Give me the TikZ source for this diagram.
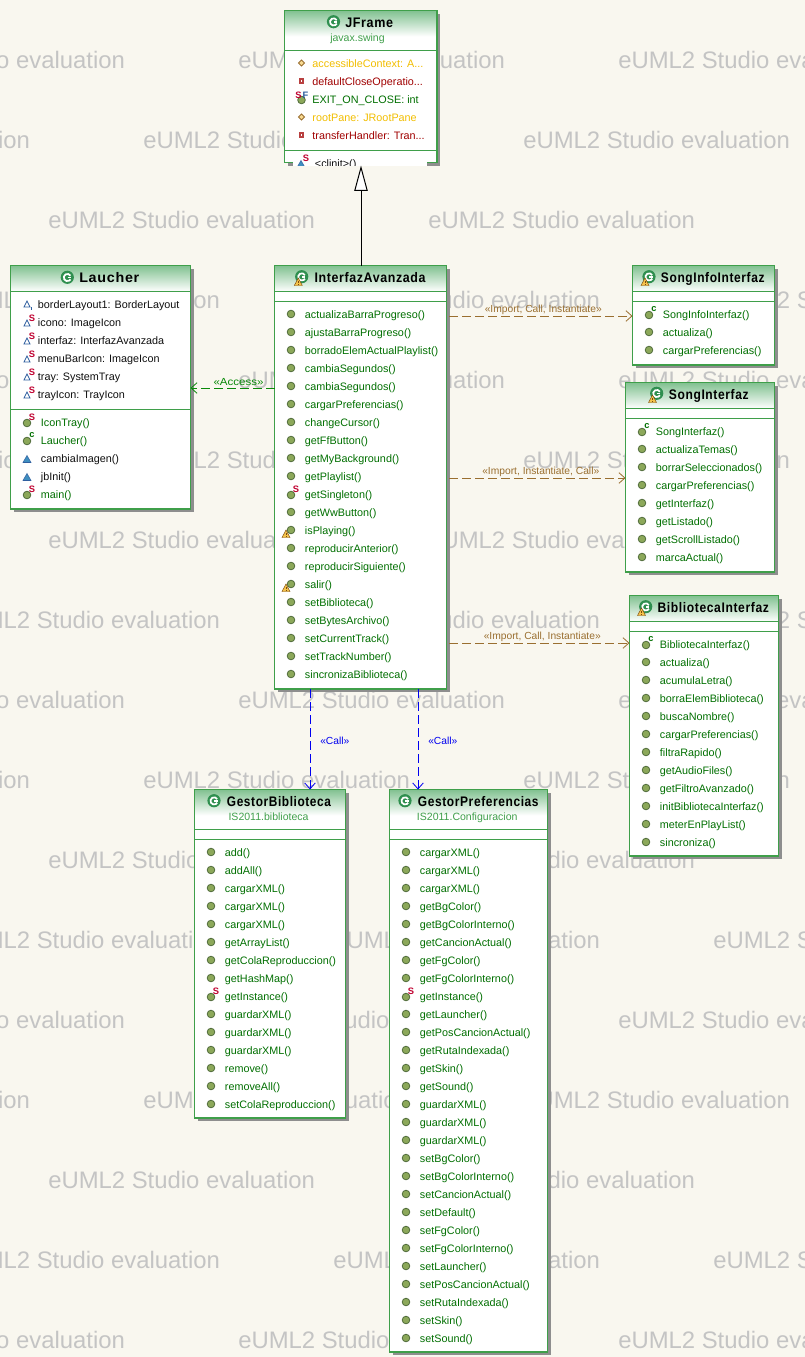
\documentclass[tikz,border=0pt]{standalone}
\usepackage{fontspec}
\setmainfont{Liberation Sans}
\newfontfamily\tfont[LetterSpace=5]{Liberation Sans}
\usetikzlibrary{calc,arrows.meta}
\definecolor{bgc}{HTML}{F9F7EF}
\definecolor{wmc}{HTML}{C4C4C4}
\definecolor{boxc}{HTML}{3F9F4A}
\definecolor{shc}{HTML}{8E8E8E}
\definecolor{topc}{HTML}{83C292}
\definecolor{subc}{HTML}{3F9F4A}
\definecolor{tc-p}{HTML}{006F00}
\definecolor{tc-s}{HTML}{006F00}
\definecolor{tc-c}{HTML}{006F00}
\definecolor{tc-w}{HTML}{006F00}
\definecolor{tc-f}{HTML}{006F00}
\definecolor{tc-t}{HTML}{101010}
\definecolor{tc-x}{HTML}{101010}
\definecolor{tc-a}{HTML}{101010}
\definecolor{tc-b}{HTML}{101010}
\definecolor{tc-o}{HTML}{F2BE00}
\definecolor{tc-r}{HTML}{A00000}
\definecolor{impc}{HTML}{9A6F30}
\definecolor{accc}{HTML}{0A8A0A}
\definecolor{callc}{HTML}{0000F0}
\definecolor{icg}{HTML}{8CA85A}
\definecolor{icd}{HTML}{4F6B3A}
\definecolor{ictri}{HTML}{3F8FC0}
\definecolor{ictc}{HTML}{2F5F9F}
\definecolor{stc}{HTML}{C00030}
\definecolor{warnc}{HTML}{F5C34A}
\definecolor{warnd}{HTML}{7A4A10}
\definecolor{clsc}{HTML}{2F8F4F}
\newcommand\ddd{...}
\def\rowoff{13.7}
\tikzset{
  wm/.style={font=\fontsize{17.9pt}{20pt}\selectfont,text=wmc,anchor=base west,inner sep=0},
  classbox/.style={draw=boxc,fill=white,line width=.9pt,inner sep=0,outer sep=0,anchor=north west},
  titlet/.style={font=\tfont\bfseries\fontsize{10.4pt}{11pt}\selectfont,text=black,anchor=base west,inner sep=0},
  subt/.style={font=\fontsize{7.9pt}{9pt}\selectfont,text=subc,anchor=base west,inner sep=0},
  row/.style={font=\fontsize{8.1pt}{9pt}\selectfont,anchor=base west,inner sep=0},
  clabel/.style={font=\fontsize{7.7pt}{8pt}\selectfont,inner sep=0,anchor=base west},
  dep/.style={dash pattern=on 6.75pt off 3pt,line width=.75pt,-{Straight Barb[length=4.5pt,width=8pt,line width=.6pt]}},
  sline/.style={draw=boxc,line width=.75pt}
}
\newcommand\icpub[2]{\fill[icg,draw=icd,line width=.6pt] (#1,#2) circle (3.8);}
\newcommand\icsup[4]{\node[inner sep=0,font=\bfseries\fontsize{7pt}{7pt}\selectfont,text=#4] at (#1,#2) {#3};}
\newcommand\ictrif[2]{\fill[ictri,draw=ictc,line width=.4pt] (#1-4,#2+3.5)--(#1+4,#2+3.5)--(#1,#2-3.5)--cycle;}
\newcommand\ictrih[2]{\draw[ictc,fill=white,line width=.6pt] (#1-3,#2+3)--(#1+3,#2+3)--(#1,#2-3)--cycle;}
\newcommand\icwarn[2]{\fill[warnc,draw=warnd,line width=.35pt] (#1-4,#2+3.5)--(#1+4,#2+3.5)--(#1,#2-4)--cycle;
  \fill[warnd] (#1-.5,#2-1.3) rectangle (#1+.5,#2+1); \fill[warnd] (#1-.5,#2+1.7) rectangle (#1+.5,#2+2.8);}
\newcommand\icp[2]{\icpub{#1}{#2}}
\newcommand\ics[2]{\icpub{#1}{#2+1}\icsup{#1+5}{#2-5}{S}{stc}}
\newcommand\icc[2]{\icpub{#1}{#2+1}\icsup{#1+5}{#2-5}{c}{tc-p}}
\newcommand\ict[2]{\ictrif{#1}{#2+1}}
\newcommand\icw[2]{\icpub{#1}{#2}\icwarn{#1-5}{#2+4}}
\newcommand\icx[2]{\ictrif{#1}{#2+1}\icsup{#1+5}{#2-5}{S}{stc}}
\newcommand\ica[2]{\ictrih{#1}{#2+1}\icsup{#1+5}{#2-4}{S}{stc}}
\newcommand\icb[2]{\ictrih{#1}{#2}\draw[ictc,line width=.5pt] (#1+4.5,#2+3)--(#1+4.5,#2+6);}
\newcommand\icf[2]{\icpub{#1}{#2+1}\icsup{#1-3}{#2-4}{S}{stc}\icsup{#1+4}{#2-4}{F}{ictc}}
\newcommand\ico[2]{\draw[fill=warnc!60,draw=impc,line width=.55pt] (#1,#2-3)--(#1+3,#2)--(#1,#2+3)--(#1-3,#2)--cycle;}
\newcommand\icr[2]{\fill[tc-r!75] (#1-2.6,#2-2.6) rectangle (#1+2.6,#2+2.6); \fill[white] (#1-.9,#2-.9) rectangle (#1+.9,#2+.9);}
\newcommand\clsicon[2]{\fill[clsc] (#1,#2) circle (6.6);
  \draw[white,line width=1.3pt] (#1+3.2,#2-1.6) arc (-30:-330:3.6) ;
  \draw[white,line width=1pt] (#1+.4,#2+.2)--(#1+3.5,#2+.2);}
\newcommand\umlbox[5]{
  \fill[shc] (#2+3,#3+3) rectangle (#4+3,#5+3);
  \node[classbox,minimum width={(#4-#2)*.75pt},minimum height={(#5-#3)*.75pt}] (#1) at (#2,#3) {};
}
\newcommand\umlhead[5]{
  \shade[top color=topc,bottom color=white] (#2+.5,#3+.5) rectangle (#4-.5,#3+26);
  \draw[boxc,line width=.9pt] (#2,#3)--(#4,#3)--(#4,#5)--(#2,#5)--cycle;
}
\newcommand\rows[4]{
  \foreach \t/\k [count=\i] in {#4}{
    \csname ic\k\endcsname{#2}{#3+18*\i-18}
    \node[row,text=tc-\k] (#1-r\i) at (#2+\rowoff,#3+18*\i-18+4) {\t};
  }
}
% box, iconx, icony, textx, baseline, width(pt), text
\newcommand\classtitle[7]{
  \clsicon{#2}{#3}
  \node[titlet] (#1-t) at (#4,#5) {\resizebox{#6}{\height}{#7}};
}
\begin{document}
\begin{tikzpicture}[x=.75pt,y=-.75pt]
\useasboundingbox (0,0) rectangle (805,1357);
\fill[bgc] (0,0) rectangle (805,1357);
\foreach \yy/\xx [count=\n] in {68/-142,68/238,68/618,
 148/-237,148/143,148/523,
 228/48,228/428,
 308/-47,308/333,308/713,
 388/-142,388/238,388/618,
 468/-237,468/143,468/523,
 548/48,548/428,
 628/-47,628/333,628/713,
 708/-142,708/238,708/618,
 788/-237,788/143,788/523,
 868/48,868/428,
 948/-47,948/333,948/713,
 1028/-142,1028/238,1028/618,
 1108/-237,1108/143,1108/523,
 1188/48,1188/428,
 1268/-47,1268/333,1268/713,
 1348/-142,1348/238,1348/618}{
  \node[wm] (wm\n) at (\xx,\yy) {eUML2 Studio evaluation};
}
% JFrame
\umlbox{jframe}{284.5}{10.5}{437}{162.5}
\umlhead{jframe}{284.5}{10.5}{437}{50.5}
\classtitle{jframe}{333.5}{21.7}{345}{27.5}{35.8pt}{JFrame}
\node[subt] (jframe-s) at (330,41) {javax.swing};
\def\rowoff{10.7}
\rows{jframe-a}{301.5}{63}{accessibleContext: A\ddd/o,defaultCloseOperatio\ddd/r,EXIT\_ON\_CLOSE: int/f,rootPane: JRootPane/o,transferHandler: Tran\ddd/r}
\def\rowoff{13.7}
\draw[sline] (284.5,150.5)--(437,150.5);
\fill[white] (293,151.5) rectangle (427,165.7);
\begin{scope}
\clip (293,151.5) rectangle (427,165.7);
\rows{jframe-m}{301}{163}{<clinit>()/x}
\end{scope}
% Laucher
\umlbox{launcher}{10.5}{265.5}{190.5}{509}
\umlhead{launcher}{10.5}{265.5}{190.5}{291.5}
\classtitle{launcher}{67.3}{277.3}{79}{282.5}{45pt}{Laucher}
\draw[sline] (10.5,409.5)--(190.5,409.5);
\def\rowoff{10.7}
\rows{launcher-a}{27}{304}{borderLayout1: BorderLayout/b,icono: ImageIcon/a,interfaz: InterfazAvanzada/a,menuBarIcon: ImageIcon/a,tray: SystemTray/a,trayIcon: TrayIcon/a}
\def\rowoff{13.7}
\rows{launcher-m}{27}{422}{IconTray()/s,Laucher()/c,cambiaImagen()/t,jbInit()/t,main()/s}
% Interfaz
\umlbox{iface}{274.5}{265.5}{446.5}{689}
\umlhead{iface}{274.5}{265.5}{446.5}{291.5}
\classtitle{iface}{301.7}{276.7}{314.3}{282.5}{83.25pt}{InterfazAvanzada}
\icwarn{298.3}{282}
\draw[sline] (274.5,301.5)--(446.5,301.5);
\rows{iface-m}{291}{314}{actualizaBarraProgreso()/p,ajustaBarraProgreso()/p,borradoElemActualPlaylist()/p,cambiaSegundos()/p,cambiaSegundos()/p,cargarPreferencias()/p,changeCursor()/p,getFfButton()/p,getMyBackground()/p,getPlaylist()/p,getSingleton()/s,getWwButton()/p,isPlaying()/w,reproducirAnterior()/p,reproducirSiguiente()/p,salir()/w,setBiblioteca()/p,setBytesArchivo()/p,setCurrentTrack()/p,setTrackNumber()/p,sincronizaBiblioteca()/p}
% SongInfo
\umlbox{sinfo}{632.5}{265.5}{774.5}{365}
\umlhead{sinfo}{632.5}{265.5}{774.5}{291.5}
\classtitle{sinfo}{649}{276.7}{660.7}{282.5}{77.7pt}{SongInfoInterfaz}
\icwarn{645}{282}
\draw[sline] (632.5,301.5)--(774.5,301.5);
\rows{sinfo-m}{649}{314}{SongInfoInterfaz()/c,actualiza()/p,cargarPreferencias()/p}
% SongInterfaz
\umlbox{song}{625.5}{382.5}{774.5}{572}
\umlhead{song}{625.5}{382.5}{774.5}{408.5}
\classtitle{song}{656.7}{393.3}{668.7}{399.5}{59.7pt}{SongInterfaz}
\icwarn{652.5}{399}
\draw[sline] (625.5,418.5)--(774.5,418.5);
\rows{song-m}{642}{431}{SongInterfaz()/c,actualizaTemas()/p,borrarSeleccionados()/p,cargarPreferencias()/p,getInterfaz()/p,getListado()/p,getScrollListado()/p,marcaActual()/p}
% Biblioteca
\umlbox{biblio}{629.5}{595.5}{778.5}{856}
\umlhead{biblio}{629.5}{595.5}{778.5}{621.5}
\classtitle{biblio}{645.7}{606.7}{657.3}{612.5}{83.5pt}{BibliotecaInterfaz}
\icwarn{641.5}{612}
\draw[sline] (629.5,631.5)--(778.5,631.5);
\rows{biblio-m}{646}{644}{BibliotecaInterfaz()/c,actualiza()/p,acumulaLetra()/p,borraElemBiblioteca()/p,buscaNombre()/p,cargarPreferencias()/p,filtraRapido()/p,getAudioFiles()/p,getFiltroAvanzado()/p,initBibliotecaInterfaz()/p,meterEnPlayList()/p,sincroniza()/p}
% GestorBiblioteca
\umlbox{gbib}{194.5}{789.5}{345.5}{1118}
\umlhead{gbib}{194.5}{789.5}{345.5}{829.5}
\classtitle{gbib}{214}{800.7}{226.7}{806.5}{78pt}{GestorBiblioteca}
\node[subt] (gbib-s) at (228.3,820) {IS2011.biblioteca};
\draw[sline] (194.5,839.5)--(345.5,839.5);
\rows{gbib-m}{211}{852}{add()/p,addAll()/p,cargarXML()/p,cargarXML()/p,cargarXML()/p,getArrayList()/p,getColaReproduccion()/p,getHashMap()/p,getInstance()/s,guardarXML()/p,guardarXML()/p,guardarXML()/p,remove()/p,removeAll()/p,setColaReproduccion()/p}
% GestorPreferencias
\umlbox{gpref}{389.5}{789.5}{547.5}{1352}
\umlhead{gpref}{389.5}{789.5}{547.5}{829.5}
\classtitle{gpref}{405}{800.7}{417.7}{806.5}{90.5pt}{GestorPreferencias}
\node[subt] (gpref-s) at (416.7,820) {IS2011.Configuracion};
\draw[sline] (389.5,839.5)--(547.5,839.5);
\rows{gpref-m}{406}{852}{cargarXML()/p,cargarXML()/p,cargarXML()/p,getBgColor()/p,getBgColorInterno()/p,getCancionActual()/p,getFgColor()/p,getFgColorInterno()/p,getInstance()/s,getLauncher()/p,getPosCancionActual()/p,getRutaIndexada()/p,getSkin()/p,getSound()/p,guardarXML()/p,guardarXML()/p,guardarXML()/p,setBgColor()/p,setBgColorInterno()/p,setCancionActual()/p,setDefault()/p,setFgColor()/p,setFgColorInterno()/p,setLauncher()/p,setPosCancionActual()/p,setRutaIndexada()/p,setSkin()/p,setSound()/p}
% connectors
\coordinate (gen-end) at (361,165.5);
\draw[black,line width=.75pt,-{Triangle[open,fill=white,length=19pt,width=10pt,line width=.75pt]}] (361,0 |- iface.north) -- (gen-end);
\coordinate (acc-start) at (274.5,388);
\draw[dep,accc] (acc-start) -- (launcher.east |- acc-start);
\node[clabel,text=accc] (acc-l) at (213.3,385) {\resizebox{37.5pt}{\height}{«Access»}};
\coordinate (imp1) at (449,316);
\draw[dep,impc] (imp1) -- (sinfo.west |- imp1);
\node[clabel,text=impc] (imp1-l) at (484.5,312.5) {«Import, Call, Instantiate»};
\coordinate (imp2) at (449,478);
\draw[dep,impc] (imp2) -- (song.west |- imp2);
\node[clabel,text=impc] (imp2-l) at (482,474.5) {«Import, Instantiate, Call»};
\coordinate (imp3) at (449,643);
\draw[dep,impc] (imp3) -- (biblio.west |- imp3);
\node[clabel,text=impc] (imp3-l) at (483.5,639.5) {«Import, Call, Instantiate»};
\draw[dep,callc] (310,0 |- iface.south) -- (310,0 |- gbib.north);
\node[clabel,text=callc] (call1-l) at (320,744) {«Call»};
\draw[dep,callc] (418,0 |- iface.south) -- (418,0 |- gpref.north);
\node[clabel,text=callc] (call2-l) at (428,744) {«Call»};
\end{tikzpicture}
\end{document}
